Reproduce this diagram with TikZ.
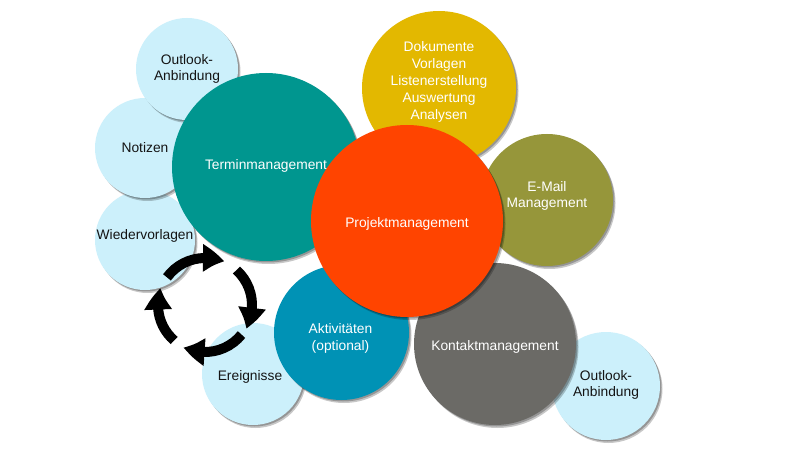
\documentclass[tikz,border=0pt]{standalone}
\usepackage{fontspec}
\setmainfont{Liberation Sans}
\usetikzlibrary{shadows,arrows.meta,bending}
\definecolor{lightc}{RGB}{204,240,251}
\definecolor{tealc}{RGB}{0,150,143}
\definecolor{yellowc}{RGB}{227,184,0}
\definecolor{orangec}{RGB}{255,68,0}
\definecolor{olivec}{RGB}{150,150,58}
\definecolor{grayc}{RGB}{107,106,102}
\definecolor{bluec}{RGB}{0,146,181}
\definecolor{darktext}{RGB}{20,20,20}
\tikzset{
  bubble/.style={circle, inner sep=0pt,
    drop shadow={shadow xshift=2.5pt, shadow yshift=-3pt, opacity=0.22, fill=black},
    drop shadow={shadow xshift=1.5pt, shadow yshift=-1.5pt, opacity=0.25, fill=black}},
  light/.style={bubble, fill=lightc},
  lbl/.style={inner sep=0pt, align=center, font=\fontsize{13.8}{16.8}\selectfont, text=white},
  lbldark/.style={lbl, text=darktext},
  cyclearrow/.style={line width=10pt, black, -{Triangle[width=26pt,length=22pt,bend]}}
}
\begin{document}
\begin{tikzpicture}[x=1pt,y=1pt]
\useasboundingbox (0,0) rectangle (800,450);
\fill[white] (0,0) rectangle (800,450);
% small light circles (left)
\node[light, minimum size=100pt] (wv) at (145,210) {};
\node[lbldark] (wvt) at ([yshift=4pt]wv.center) {Wiedervorlagen};
\node[light, minimum size=100pt] (no) at (145,302) {};
\node[lbldark] (not) at (no.center) {Notizen};
\node[light, minimum size=102pt] (ol) at (187,381) {};
\node[lbldark] (olt) at (ol.center) {Outlook-\\Anbindung};
% Terminmanagement
\node[bubble, fill=tealc, minimum size=188pt] (tm) at (266,283) {};
\node[lbl] (tmt) at ([yshift=1pt]tm.center) {Terminmanagement};
% Dokumente
\node[bubble, fill=yellowc, minimum size=154pt] (dk) at (439,362) {};
\node[lbl] (dkt) at ([yshift=6pt]dk.center) {Dokumente\\Vorlagen\\Listenerstellung\\Auswertung\\Analysen};
% E-Mail
\node[bubble, fill=olivec, minimum size=132pt] (em) at (547,250) {};
\node[lbl] (emt) at ([yshift=4pt]em.center) {E-Mail\\Management};
% Ereignisse
\node[light, minimum size=102pt] (er) at (253,76) {};
\node[lbldark] (ert) at ([xshift=-3pt,yshift=-3pt]er.center) {Ereignisse};
% Outlook right
\node[light, minimum size=108pt] (or) at (606,64) {};
\node[lbldark] (ort) at ([yshift=1pt]or.center) {Outlook-\\Anbindung};
% Kontaktmanagement
\node[bubble, fill=grayc, minimum size=162pt] (km) at (495,106) {};
\node[lbl] (kmt) at ([yshift=-3pt]km.center) {Kontaktmanagement};
% Aktivitaeten
\node[bubble, fill=bluec, minimum size=135pt] (ak) at (341.5,117.5) {};
\node[lbl] (akt) at ([xshift=-1pt,yshift=-6pt]ak.center) {Aktivitäten\\(optional)};
% Projektmanagement
\node[bubble, fill=orangec, minimum size=192pt] (pm) at (407,229) {};
\node[lbl] (pmt) at ([yshift=-3pt]pm.center) {Projektmanagement};
% cycle arrows
\coordinate (cc) at (205,145);
\draw[cyclearrow] ([shift={(144:47)}]cc) arc[start angle=144, end angle=66, radius=47];
\draw[cyclearrow] ([shift={(48:47)}]cc) arc[start angle=48, end angle=-30, radius=47];
\draw[cyclearrow] ([shift={(-39:47)}]cc) arc[start angle=-39, end angle=-117, radius=47];
\draw[cyclearrow] ([shift={(-131:47)}]cc) arc[start angle=-131, end angle=-201, radius=47];
\end{tikzpicture}
\end{document}
